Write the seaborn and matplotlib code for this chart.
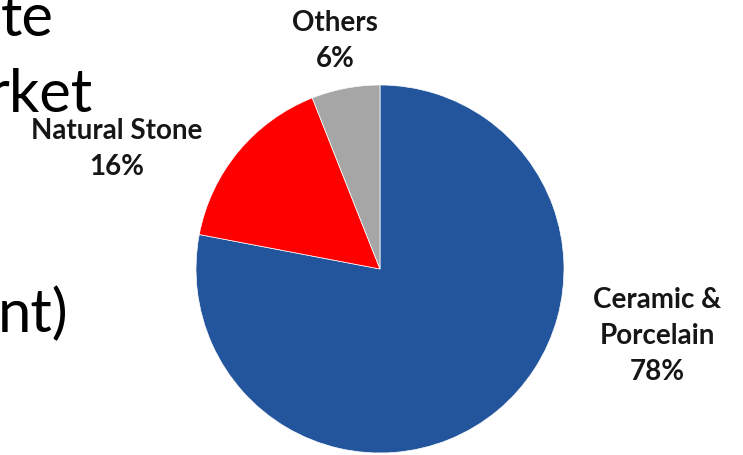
import matplotlib
matplotlib.use("Agg")
import matplotlib.pyplot as plt
import seaborn as sns

categories = ["Ceramic &\nPorcelain", "Natural Stone", "Others"]
shares = [78, 16, 6]
colors = ["#22559C", "#FF0000", "#A6A6A6"]
title_fragments = ["te", "rket", "nt)"]

sns.set_theme(style="white")
plt.rcParams["font.family"] = ["Lato", "DejaVu Sans"]

W, H = 743, 456
fig = plt.figure(figsize=(W / 100, H / 100), dpi=100)
ax = fig.add_axes([0, 0, 1, 1])

cx, cy, r = 380, H - 270, 184
ax.pie(shares, colors=colors, startangle=90, counterclock=False,
       center=(cx, cy), radius=r, frame=True,
       wedgeprops=dict(edgecolor="white", linewidth=0.5))
ax.set_xlim(0, W)
ax.set_ylim(0, H)
ax.set_aspect("equal")
ax.axis("off")

label_pos = [(657, H - 336), (117, H - 149), (335, H - 41)]
for cat, val, (x, y) in zip(categories, shares, label_pos):
    ax.text(x, y, f"{cat}\n{val}%", ha="center", va="center",
            fontsize=20, fontweight="bold", color="#161616",
            linespacing=1.5)

frag_pos = [(54, H - 36), (93, H - 112), (69, H - 332)]
for t, (x, y) in zip(title_fragments, frag_pos):
    ax.text(x, y, t, ha="right", va="baseline", fontsize=43, color="black")

fig.savefig("out.png", dpi=100)
